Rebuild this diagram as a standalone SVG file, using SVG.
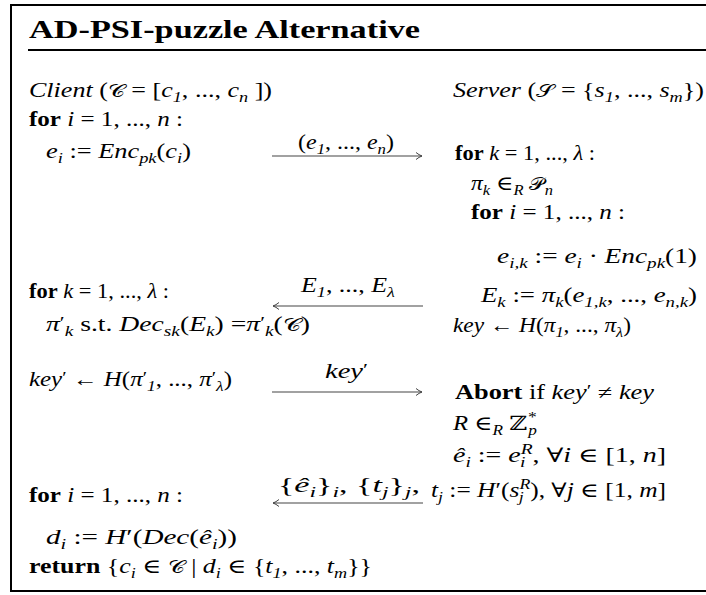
<svg xmlns="http://www.w3.org/2000/svg" width="706" height="595" viewBox="0 0 706 595">
<defs>
<style>
text{font-family:"Liberation Serif","DejaVu Serif",serif;font-size:20px;fill:#000}
.m{font-style:italic}
.r{font-style:normal}
.b{font-weight:bold;font-style:normal}
.sub{font-size:14px;baseline-shift:-5px}
.sup{font-size:14px;baseline-shift:8px}
.pr{font-size:16px;baseline-shift:3px;font-style:normal}
.cal{font-family:"DejaVu Sans","Noto Sans",sans-serif;font-style:normal;font-size:18px}
.title{font-weight:bold;font-size:25px}
.msg{stroke:#444;stroke-width:1.2;fill:none}
</style>
<marker id="ah" markerWidth="10" markerHeight="10" refX="7" refY="4" orient="auto" markerUnits="userSpaceOnUse">
<path d="M1,0.5 Q4,3 7,4 Q4,5 1,7.5" fill="none" stroke="#444" stroke-width="1"/>
</marker>
</defs>
<g id="frame" stroke="#000" stroke-width="2" fill="none">
<path d="M706,5 H11 V591 H706"/>
<line x1="28" y1="50" x2="706" y2="50"/>
</g>
<g id="title"><text class="title" x="29" y="38" textLength="391" lengthAdjust="spacingAndGlyphs">AD-PSI-puzzle Alternative</text></g>
<g id="client">
<text class="m" x="29" y="97" textLength="243" lengthAdjust="spacingAndGlyphs">Client <tspan class="r">(</tspan><tspan class="cal">𝒞</tspan> <tspan class="r">= [</tspan>c<tspan class="sub">1</tspan><tspan class="r">, ..., </tspan>c<tspan class="sub">n</tspan>  <tspan class="r">])</tspan></text>
<text x="29" y="126" class="m" textLength="154" lengthAdjust="spacingAndGlyphs"><tspan class="b">for</tspan> i <tspan class="r">= 1, ..., </tspan>n <tspan class="r">:</tspan></text>
<text x="46" y="158" class="m" textLength="145" lengthAdjust="spacingAndGlyphs">e<tspan class="sub">i</tspan> <tspan class="r">:=</tspan> Enc<tspan class="sub">pk</tspan><tspan class="r">(</tspan>c<tspan class="sub">i</tspan><tspan class="r">)</tspan></text>
<text x="29" y="298" class="m" textLength="140" lengthAdjust="spacingAndGlyphs"><tspan class="b">for</tspan> k <tspan class="r">= 1, ..., </tspan>λ <tspan class="r">:</tspan></text>
<text x="46" y="331" class="m" textLength="264" lengthAdjust="spacingAndGlyphs">π<tspan class="pr">′</tspan><tspan class="sub">k</tspan> <tspan class="r">s.t.</tspan> Dec<tspan class="sub">sk</tspan><tspan class="r">(</tspan>E<tspan class="sub">k</tspan><tspan class="r">) =</tspan>π<tspan class="pr">′</tspan><tspan class="sub">k</tspan><tspan class="r">(</tspan><tspan class="cal">𝒞</tspan><tspan class="r">)</tspan></text>
<text x="29" y="386" class="m" textLength="203" lengthAdjust="spacingAndGlyphs">key<tspan class="pr">′</tspan> <tspan class="r">← </tspan>H<tspan class="r">(</tspan>π<tspan class="pr">′</tspan><tspan class="sub">1</tspan><tspan class="r">, ..., </tspan>π<tspan class="pr">′</tspan><tspan class="sub">λ</tspan><tspan class="r">)</tspan></text>
<text x="29" y="502" class="m" textLength="154" lengthAdjust="spacingAndGlyphs"><tspan class="b">for</tspan> i <tspan class="r">= 1, ..., </tspan>n <tspan class="r">:</tspan></text>
<text x="46" y="544" class="m" textLength="191" lengthAdjust="spacingAndGlyphs">d<tspan class="sub">i</tspan> <tspan class="r">:=</tspan> H<tspan class="r">′(</tspan>Dec<tspan class="r">(</tspan>ê<tspan class="sub">i</tspan><tspan class="r">))</tspan></text>
<text x="29" y="573" class="m" textLength="343" lengthAdjust="spacingAndGlyphs"><tspan class="b">return</tspan> <tspan class="r">{</tspan>c<tspan class="sub">i</tspan> <tspan class="r">∈</tspan> <tspan class="cal">𝒞</tspan> <tspan class="r">|</tspan> d<tspan class="sub">i</tspan> <tspan class="r">∈  {</tspan>t<tspan class="sub">1</tspan><tspan class="r">, ..., </tspan>t<tspan class="sub">m</tspan><tspan class="r">}}</tspan></text>
</g>
<g id="server">
<text class="m" x="453" y="97" textLength="251" lengthAdjust="spacingAndGlyphs">Server <tspan class="r">(</tspan><tspan class="cal">𝒮</tspan> <tspan class="r">= {</tspan>s<tspan class="sub">1</tspan><tspan class="r">, ..., </tspan>s<tspan class="sub">m</tspan><tspan class="r">})</tspan></text>
<text x="455" y="160" class="m" textLength="140" lengthAdjust="spacingAndGlyphs"><tspan class="b">for</tspan> k <tspan class="r">= 1, ..., </tspan>λ <tspan class="r">:</tspan></text>
<text x="471" y="190" class="m" textLength="82" lengthAdjust="spacingAndGlyphs">π<tspan class="sub">k</tspan> <tspan class="r">∈</tspan><tspan class="sub">R</tspan> <tspan class="cal">𝒫</tspan><tspan class="sub">n</tspan></text>
<text x="471" y="219" class="m" textLength="154" lengthAdjust="spacingAndGlyphs"><tspan class="b">for</tspan> i <tspan class="r">= 1, ..., </tspan>n <tspan class="r">:</tspan></text>
<text x="497" y="263" class="m" textLength="200" lengthAdjust="spacingAndGlyphs">e<tspan class="sub">i,k</tspan> <tspan class="r">:=</tspan> e<tspan class="sub">i</tspan> <tspan class="r">·</tspan> Enc<tspan class="sub">pk</tspan><tspan class="r">(1)</tspan></text>
<text x="481" y="302" class="m" textLength="216" lengthAdjust="spacingAndGlyphs">E<tspan class="sub">k</tspan> <tspan class="r">:=</tspan> π<tspan class="sub">k</tspan><tspan class="r">(</tspan>e<tspan class="sub">1,k</tspan><tspan class="r">, ..., </tspan>e<tspan class="sub">n,k</tspan><tspan class="r">)</tspan></text>
<text x="453" y="332" class="m" textLength="178" lengthAdjust="spacingAndGlyphs">key <tspan class="r">← </tspan>H<tspan class="r">(</tspan>π<tspan class="sub">1</tspan><tspan class="r">, ..., </tspan>π<tspan class="sub">λ</tspan><tspan class="r">)</tspan></text>
<text x="455" y="399" class="m" textLength="199" lengthAdjust="spacingAndGlyphs"><tspan class="b">Abort</tspan> <tspan class="r">if</tspan> key<tspan class="pr">′</tspan> <tspan class="r">≠</tspan> key</text>
<text x="453" y="430" class="m" textLength="84" lengthAdjust="spacingAndGlyphs">R <tspan class="r">∈</tspan><tspan class="sub">R</tspan> <tspan class="r">ℤ</tspan><tspan class="sup">*</tspan><tspan class="sub" dx="-6">p</tspan></text>
<text x="453" y="462" class="m" textLength="213" lengthAdjust="spacingAndGlyphs">ê<tspan class="sub">i</tspan> <tspan class="r">:=</tspan> e<tspan class="sup">R</tspan><tspan class="sub" dx="-9">i</tspan><tspan class="r" dx="5">, ∀</tspan>i <tspan class="r">∈ [1, </tspan>n<tspan class="r">]</tspan></text>
<text x="431" y="497" class="m" textLength="235" lengthAdjust="spacingAndGlyphs">t<tspan class="sub">j</tspan> <tspan class="r">:=</tspan> H<tspan class="r">′(</tspan>s<tspan class="sup">R</tspan><tspan class="sub" dx="-9">j</tspan><tspan class="r" dx="5">), ∀</tspan>j <tspan class="r">∈ [1, </tspan>m<tspan class="r">]</tspan></text>
</g>
<g id="connectors">
<line class="msg" x1="272" y1="156" x2="422" y2="156" marker-end="url(#ah)"/>
<text x="298" y="149" class="m" textLength="96" lengthAdjust="spacingAndGlyphs"><tspan class="r">(</tspan>e<tspan class="sub">1</tspan><tspan class="r">, ..., </tspan>e<tspan class="sub">n</tspan><tspan class="r">)</tspan></text>
<line class="msg" x1="423" y1="306" x2="273" y2="306" marker-end="url(#ah)"/>
<text x="301" y="292" class="m" textLength="94" lengthAdjust="spacingAndGlyphs">E<tspan class="sub">1</tspan><tspan class="r">, ..., </tspan>E<tspan class="sub">λ</tspan></text>
<line class="msg" x1="272" y1="392" x2="422" y2="392" marker-end="url(#ah)"/>
<text x="325" y="378" class="m" textLength="43" lengthAdjust="spacingAndGlyphs">key<tspan class="pr">′</tspan></text>
<line class="msg" x1="423" y1="503" x2="273" y2="503" marker-end="url(#ah)"/>
<text x="278" y="492" class="m" textLength="142" lengthAdjust="spacingAndGlyphs"><tspan class="r">{</tspan>ê<tspan class="sub">i</tspan><tspan class="r">}</tspan><tspan class="sub">i</tspan><tspan class="r">, {</tspan>t<tspan class="sub">j</tspan><tspan class="r">}</tspan><tspan class="sub">j</tspan><tspan class="r">,</tspan></text>
</g>
</svg>
